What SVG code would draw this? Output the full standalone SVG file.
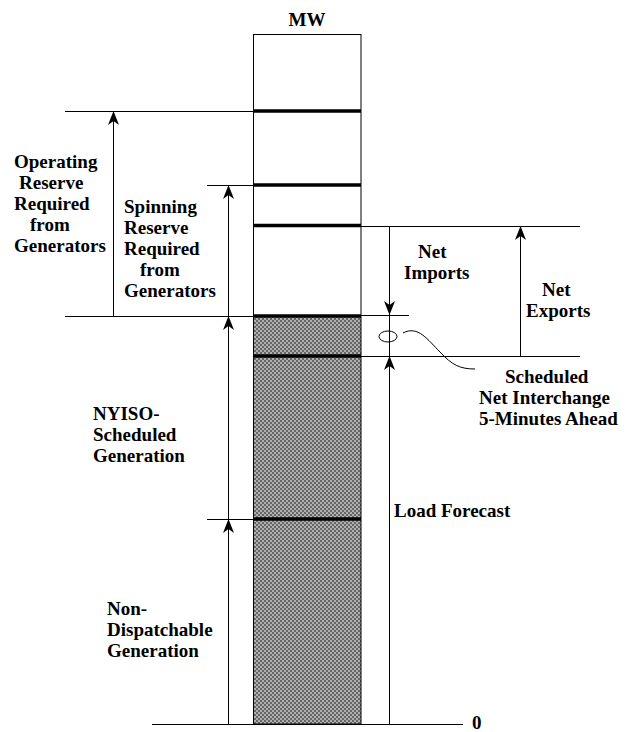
<svg xmlns="http://www.w3.org/2000/svg" width="632" height="732" viewBox="0 0 632 732">
<style>
.t{font-family:"Liberation Serif","Times New Roman",serif;font-weight:bold;font-size:19px;fill:#000}
.ln{stroke:#000;stroke-width:1;fill:none}
.thk{stroke:#000;stroke-width:3.5;fill:none}
.ar{stroke:#000;stroke-width:1;fill:none;marker-end:url(#ah)}
</style>
<defs>
<marker id="ah" markerUnits="userSpaceOnUse" markerWidth="16" markerHeight="14" viewBox="-15 -7 16 14" refX="0" refY="0" orient="auto">
<path d="M0,0 L-14,-5.5 L-10,0 L-14,5.5 Z" fill="#000"/>
</marker>
<pattern id="chk" patternUnits="userSpaceOnUse" width="4" height="4">
<rect width="4" height="4" fill="#b0b0b0"/>
<rect width="2" height="2" fill="#666"/>
<rect x="2" y="2" width="2" height="2" fill="#666"/>
</pattern>
</defs>
<rect width="632" height="732" fill="#fff"/>

<g id="column">
<rect x="253" y="316" width="108" height="408" fill="url(#chk)"/>
<rect x="253.5" y="34.5" width="107.5" height="689.5" class="ln"/>
<text class="t" x="307" y="26" text-anchor="middle">MW</text>
</g>

<g id="levels">
<line class="thk" x1="253" y1="111" x2="361" y2="111"/>
<line class="thk" x1="253" y1="185" x2="361" y2="185"/>
<line class="thk" x1="253" y1="225.5" x2="361" y2="225.5"/>
<line class="thk" x1="253" y1="316" x2="361" y2="316"/>
<line class="thk" x1="253" y1="356" x2="361" y2="356"/>
<line class="thk" x1="253" y1="519" x2="361" y2="519"/>
</g>

<g id="connectors">
<line class="ln" x1="65" y1="111.5" x2="253" y2="111.5"/>
<line class="ln" x1="207" y1="185.5" x2="253" y2="185.5"/>
<line class="ln" x1="361" y1="226.5" x2="580" y2="226.5"/>
<line class="ln" x1="65" y1="316.5" x2="253" y2="316.5"/>
<line class="ln" x1="361" y1="315.5" x2="409" y2="315.5"/>
<line class="ln" x1="361" y1="356.5" x2="580" y2="356.5"/>
<line class="ln" x1="207" y1="519.5" x2="253" y2="519.5"/>
<line class="ln" x1="152" y1="724.5" x2="463" y2="724.5"/>

<line class="ar" x1="113.5" y1="316" x2="113.5" y2="111"/>
<line class="ar" x1="228.5" y1="316" x2="228.5" y2="185"/>
<line class="ar" x1="228.5" y1="519" x2="228.5" y2="316"/>
<line class="ar" x1="228.5" y1="724" x2="228.5" y2="519"/>
<line class="ar" x1="389.5" y1="227" x2="389.5" y2="315"/>
<line class="ar" x1="520.5" y1="356" x2="520.5" y2="226"/>
<line class="ar" x1="389.5" y1="724" x2="389.5" y2="356"/>
<line class="ln" x1="389.5" y1="316" x2="389.5" y2="356"/>
<ellipse class="ln" cx="388" cy="336.5" rx="9" ry="5.5"/>
<path class="ln" d="M403,333 C418,325 428,340 440,352 C452,365 460,369 475,369"/>
</g>

<g id="operating-reserve">
<text class="t" x="14" y="168">Operating</text>
<text class="t" x="19" y="189">Reserve</text>
<text class="t" x="14" y="210">Required</text>
<text class="t" x="30" y="231">from</text>
<text class="t" x="14" y="252">Generators</text>
</g>
<g id="spinning-reserve">
<text class="t" x="124" y="213">Spinning</text>
<text class="t" x="124" y="234">Reserve</text>
<text class="t" x="124" y="255">Required</text>
<text class="t" x="140" y="276">from</text>
<text class="t" x="124" y="297">Generators</text>
</g>
<g id="nyiso-scheduled">
<text class="t" x="93" y="420">NYISO-</text>
<text class="t" x="93" y="441">Scheduled</text>
<text class="t" x="93" y="462">Generation</text>
</g>
<g id="non-dispatchable">
<text class="t" x="107" y="615">Non-</text>
<text class="t" x="107" y="636">Dispatchable</text>
<text class="t" x="107" y="657">Generation</text>
</g>
<g id="net-imports">
<text class="t" x="418" y="258">Net</text>
<text class="t" x="404" y="279">Imports</text>
</g>
<g id="net-exports">
<text class="t" x="542" y="296">Net</text>
<text class="t" x="526" y="317">Exports</text>
</g>
<g id="scheduled-net-interchange">
<text class="t" x="505" y="383">Scheduled</text>
<text class="t" x="479" y="404">Net Interchange</text>
<text class="t" x="479" y="425">5-Minutes Ahead</text>
</g>
<g id="load-forecast">
<text class="t" x="394" y="517">Load Forecast</text>
</g>
<g id="zero">
<text class="t" x="472" y="729">0</text>
</g>
</svg>
